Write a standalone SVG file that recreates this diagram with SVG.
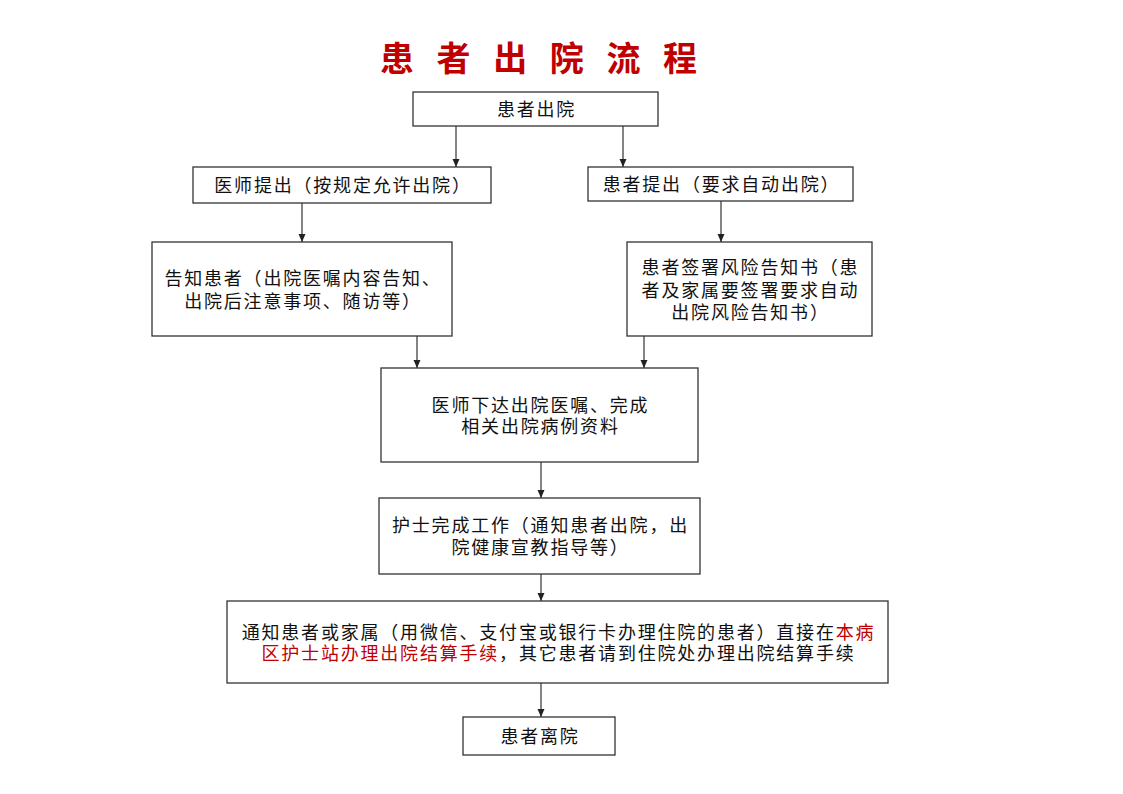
<svg xmlns="http://www.w3.org/2000/svg" width="1123" height="794" viewBox="0 0 1123 794">
<style>
.box{fill:#fff;stroke:#333;stroke-width:1.3}
.t{font-family:'Liberation Sans','Noto Sans CJK SC',sans-serif;font-size:18px;fill:#111;text-anchor:middle;letter-spacing:1.8px}
.red{fill:#c00000}
.title{font-family:'Liberation Sans','Noto Sans CJK SC',sans-serif;font-size:34px;font-weight:bold;fill:#c00000;letter-spacing:22.6px}
.c{stroke:#333;stroke-width:1.2;fill:none;marker-end:url(#ah)}
</style>
<defs>
<marker id="ah" viewBox="0 0 8 8" refX="8" refY="4" markerWidth="8" markerHeight="8" markerUnits="userSpaceOnUse" orient="auto">
<path d="M0,0.5 L8,4 L0,7.5 Z" fill="#222"/>
</marker>
</defs>
<rect width="1123" height="794" fill="#fff"/>
<text class="title" x="380" y="71">患者出院流程</text>
<g id="connectors">
<line class="c" x1="456" y1="126" x2="456" y2="167"/>
<line class="c" x1="623" y1="126" x2="623" y2="167"/>
<line class="c" x1="302" y1="203" x2="302" y2="242"/>
<line class="c" x1="721" y1="201" x2="721" y2="242"/>
<line class="c" x1="417" y1="336" x2="417" y2="368"/>
<line class="c" x1="644" y1="336" x2="644" y2="368"/>
<line class="c" x1="541" y1="462" x2="541" y2="498"/>
<line class="c" x1="541" y1="574" x2="541" y2="601"/>
<line class="c" x1="541" y1="683" x2="541" y2="717"/>
</g>
<g id="n1"><rect class="box" x="413" y="92" width="245" height="34"/><text class="t" x="536.5" y="115.5">患者出院</text></g>
<g id="n2"><rect class="box" x="193" y="167" width="298" height="36"/><text class="t" x="343" y="191.5">医师提出（按规定允许出院）</text></g>
<g id="n3"><rect class="box" x="588" y="167" width="265" height="34"/><text class="t" x="721.5" y="190.5">患者提出（要求自动出院）</text></g>
<g id="n4"><rect class="box" x="152" y="242" width="300" height="94"/><text class="t" x="303" y="284.5">告知患者（出院医嘱内容告知、</text><text class="t" x="303" y="307.5">出院后注意事项、随访等）</text></g>
<g id="n5"><rect class="box" x="627" y="242" width="245" height="94"/><text class="t" x="750.5" y="274">患者签署风险告知书（患</text><text class="t" x="750.5" y="296.5">者及家属要签署要求自动</text><text class="t" x="750.5" y="318.5">出院风险告知书）</text></g>
<g id="n6"><rect class="box" x="381" y="368" width="317" height="94"/><text class="t" x="540.5" y="411.5">医师下达出院医嘱、完成</text><text class="t" x="540.5" y="432.5">相关出院病例资料</text></g>
<g id="n7"><rect class="box" x="379" y="498" width="321" height="76"/><text class="t" x="540.5" y="531.5">护士完成工作（通知患者出院，出</text><text class="t" x="540.5" y="553.5">院健康宣教指导等）</text></g>
<g id="n8"><rect class="box" x="227" y="601" width="661" height="82"/><text class="t" x="558.5" y="638.5">通知患者或家属（用微信、支付宝或银行卡办理住院的患者）直接在<tspan class="red">本病</tspan></text><text class="t" x="558.5" y="659.5"><tspan class="red">区护士站办理出院结算手续</tspan>，其它患者请到住院处办理出院结算手续</text></g>
<g id="n9"><rect class="box" x="463" y="717" width="152" height="38"/><text class="t" x="540" y="742.5">患者离院</text></g>
</svg>
